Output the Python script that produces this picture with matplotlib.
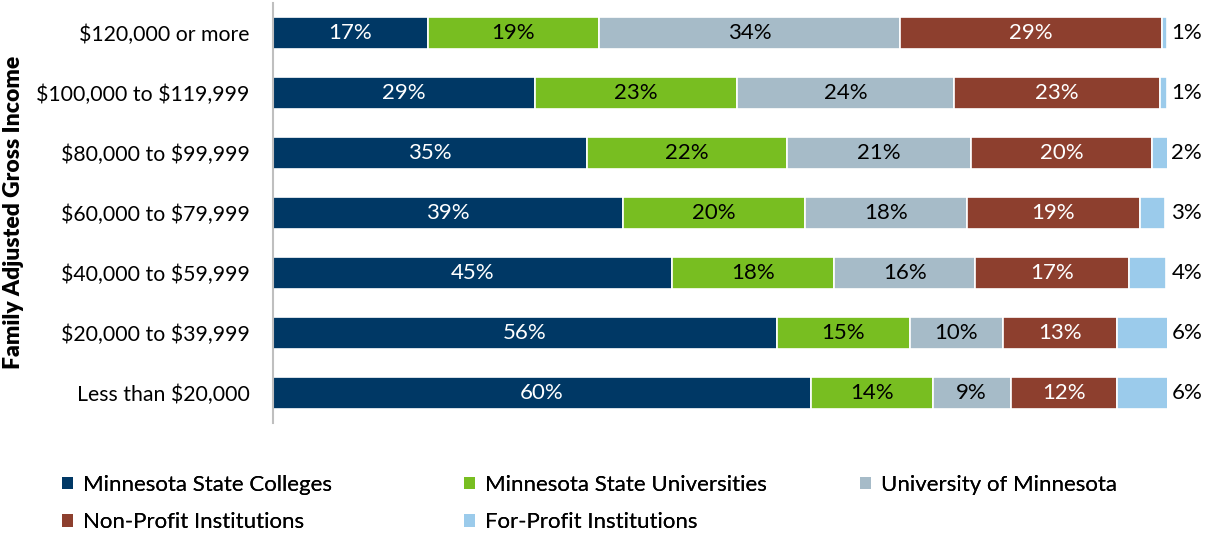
import matplotlib.pyplot as plt
from matplotlib.patches import Patch

plt.rcParams['font.family'] = ['Lato', 'DejaVu Sans']
plt.rcParams['text.parse_math'] = False

# ---- data (top row first) ----
incomes = ['$120,000 or more', '$100,000 to $119,999', '$80,000 to $99,999',
           '$60,000 to $79,999', '$40,000 to $59,999', '$20,000 to $39,999',
           'Less than $20,000']
series = ['Minnesota State Colleges', 'Minnesota State Universities',
          'University of Minnesota', 'Non-Profit Institutions',
          'For-Profit Institutions']
state_colleges = [17.3, 29.3, 35.1, 39.1, 44.6, 56.4, 60.2]
state_univs = [19.2, 22.6, 22.4, 20.4, 18.2, 14.8, 13.6]
u_of_m = [33.6, 24.3, 20.6, 18.1, 15.7, 10.4, 8.7]
non_profit = [29.3, 23.0, 20.2, 19.4, 17.3, 12.8, 11.9]
for_profit = [0.6, 0.8, 1.8, 2.8, 4.1, 5.7, 5.7]

values = [state_colleges, state_univs, u_of_m, non_profit, for_profit]
colors = ['#003865', '#78BE21', '#A6BBC8', '#8D3F2E', '#9BCBEB']
text_colors = ['white', 'black', 'black', 'white', None]

fig = plt.figure(figsize=(12.13, 5.34), dpi=100)
ax = fig.add_axes([273 / 1213, 1 - 423 / 534, 894 / 1213, 420 / 534])

ypos = list(range(len(incomes)))
left = [0.0] * len(incomes)
for vals, col, tcol, name in zip(values, colors, text_colors, series):
    ax.barh(ypos, vals, left=left, height=0.53, color=col,
            edgecolor='white', linewidth=1.2, label=name)
    for i, v in enumerate(vals):
        if tcol is not None:
            ax.text(left[i] + v / 2, i, f'{v:.0f}%', ha='center', va='center',
                    color=tcol, fontsize=16)
        else:
            ax.text(100.5, i, f'{v:.0f}%', ha='left', va='center',
                    color='black', fontsize=16, clip_on=False)
    left = [l + v for l, v in zip(left, vals)]

ax.set_xlim(0, 100)
ax.set_ylim(len(incomes) - 0.5, -0.5)
ax.set_yticks(ypos)
ax.set_yticklabels(incomes, fontsize=15.3)
ax.tick_params(axis='y', length=0, pad=17)
ax.set_xticks([])
for s in ['top', 'right', 'bottom']:
    ax.spines[s].set_visible(False)
ax.spines['left'].set_color('#BFBFBF')
ax.spines['left'].set_linewidth(1.5)

fig.text(14 / 1213, 1 - 212 / 534, 'Family Adjusted Gross Income', rotation=90,
         ha='center', va='center', fontsize=16.5, fontweight='heavy')

# legend laid out in rows like the original (three columns)
handles = [Patch(facecolor=c, edgecolor='none') for c in colors]
cols = [([0, 3], 62), ([1, 4], 464), ([2], 860)]
for idx, x in cols:
    leg = fig.legend([handles[i] for i in idx], [series[i] for i in idx],
                     loc='upper left', bbox_to_anchor=(x / 1213, 1 - 475 / 534),
                     frameon=False, fontsize=16, handlelength=0.5,
                     handleheight=0.5, handletextpad=0.45, labelspacing=0.78,
                     borderaxespad=0, borderpad=0)
    fig.add_artist(leg)

fig.savefig('out.png', dpi=100)
